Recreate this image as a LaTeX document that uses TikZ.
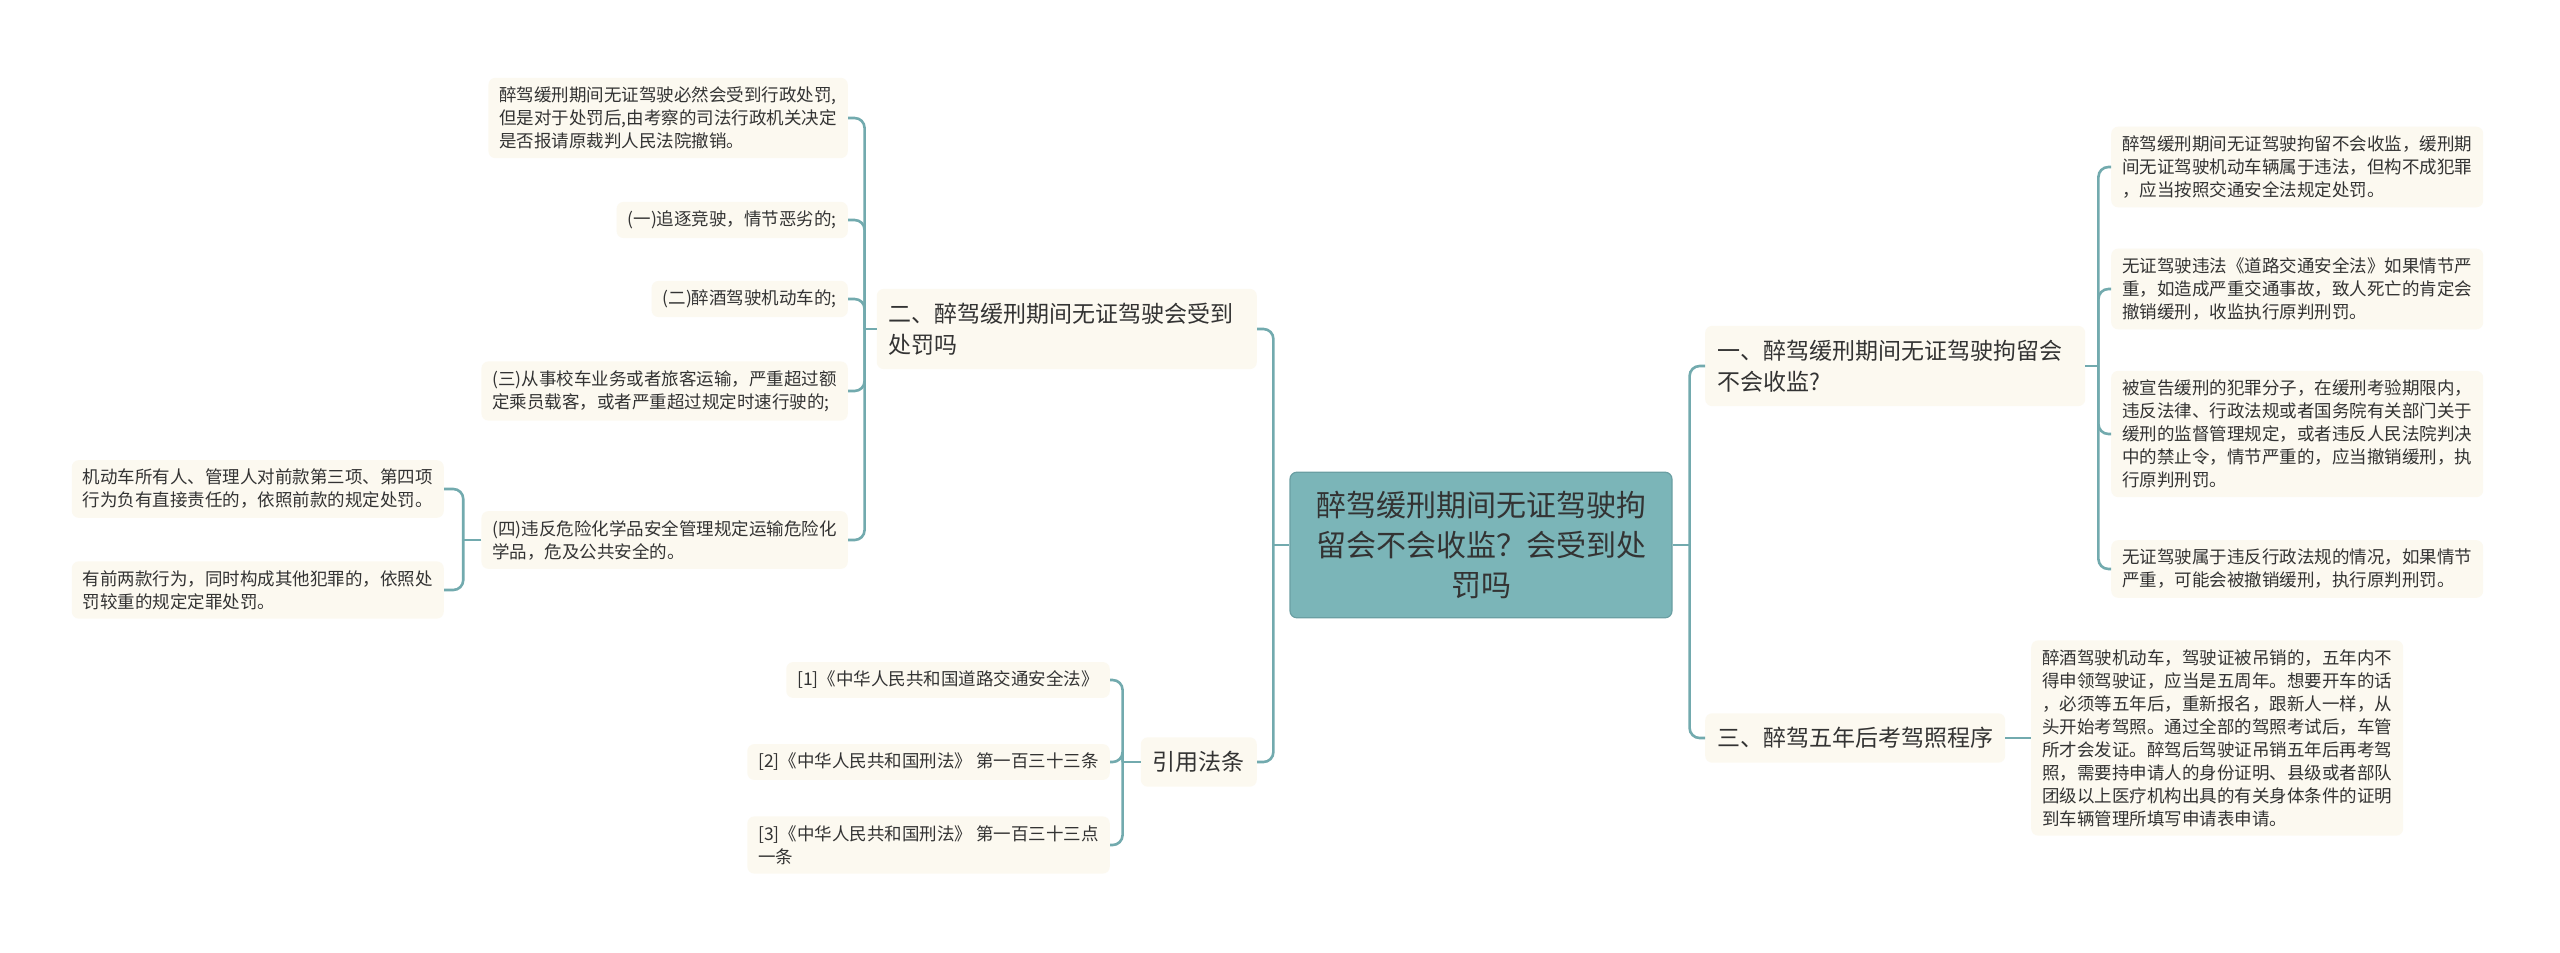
\documentclass[tikz,border=0pt]{standalone}
\usepackage{fontspec}
\setmainfont{Noto Sans CJK SC}
\usetikzlibrary{positioning}
\definecolor{linkteal}{HTML}{72AAAE}
\definecolor{rootfill}{HTML}{7BB5B8}
\definecolor{rootedge}{HTML}{6A9FA3}
\definecolor{leaffill}{HTML}{FCF9F0}
\definecolor{inkgray}{HTML}{333333}

\begin{document}
\begin{tikzpicture}[x=1pt,y=-1pt,
  link/.style={draw=linkteal,line width=2.6pt,rounded corners=10pt},
  rootbox/.style={fill=rootfill,draw=rootedge,line width=1.2pt,rounded corners=7pt,align=center,inner xsep=26pt,inner ysep=19pt,font=\fontsize{30}{40}\selectfont,text=inkgray},
  midbox/.style={fill=leaffill,rounded corners=7pt,align=left,inner xsep=12pt,inner ysep=14pt,font=\fontsize{23}{31}\selectfont,text=inkgray},
  leafbox/.style={fill=leaffill,rounded corners=7pt,align=left,inner xsep=11pt,inner ysep=9pt,font=\fontsize{17.5}{23}\selectfont,text=inkgray}]
\useasboundingbox[fill=white] (0,0) rectangle (2560,953);

%root
\node[rootbox] (root) at (1481,545) {醉驾缓刑期间无证驾驶拘\\留会不会收监？会受到处\\罚吗};

%branch one
\node[midbox,anchor=west,text width=356pt] (b1) at (1705,366) {一、醉驾缓刑期间无证驾驶拘留会\\不会收监?};
\node[leafbox,anchor=west] (r1) at (2111,167) {醉驾缓刑期间无证驾驶拘留不会收监，缓刑期\\间无证驾驶机动车辆属于违法，但构不成犯罪\\，应当按照交通安全法规定处罚。};
\node[leafbox,anchor=west] (r2) at (2111,289) {无证驾驶违法《道路交通安全法》如果情节严\\重，如造成严重交通事故，致人死亡的肯定会\\撤销缓刑，收监执行原判刑罚。};
\node[leafbox,anchor=west] (r3) at (2111,434) {被宣告缓刑的犯罪分子，在缓刑考验期限内，\\违反法律、行政法规或者国务院有关部门关于\\缓刑的监督管理规定，或者违反人民法院判决\\中的禁止令，情节严重的，应当撤销缓刑，执\\行原判刑罚。};
\node[leafbox,anchor=west] (r4) at (2111,569) {无证驾驶属于违反行政法规的情况，如果情节\\严重，可能会被撤销缓刑，执行原判刑罚。};

%branch three
\node[midbox,anchor=west] (b3) at (1705,738) {三、醉驾五年后考驾照程序};
\node[leafbox,anchor=west] (t1) at (2031,738) {醉酒驾驶机动车，驾驶证被吊销的，五年内不\\得申领驾驶证，应当是五周年。想要开车的话\\，必须等五年后，重新报名，跟新人一样，从\\头开始考驾照。通过全部的驾照考试后，车管\\所才会发证。醉驾后驾驶证吊销五年后再考驾\\照，需要持申请人的身份证明、县级或者部队\\团级以上医疗机构出具的有关身体条件的证明\\到车辆管理所填写申请表申请。};

%branch two
\node[midbox,anchor=east,text width=356pt] (b2) at (1257,329) {二、醉驾缓刑期间无证驾驶会受到\\处罚吗};
\node[leafbox,anchor=east] (c1) at (848,118) {醉驾缓刑期间无证驾驶必然会受到行政处罚,\\但是对于处罚后,由考察的司法行政机关决定\\是否报请原裁判人民法院撤销。};
\node[leafbox,anchor=east] (c2) at (848,220) {(一)追逐竞驶，情节恶劣的;};
\node[leafbox,anchor=east] (c3) at (848,299) {(二)醉酒驾驶机动车的;};
\node[leafbox,anchor=east] (c4) at (848,391) {(三)从事校车业务或者旅客运输，严重超过额\\定乘员载客，或者严重超过规定时速行驶的;};
\node[leafbox,anchor=east] (c5) at (848,540) {(四)违反危险化学品安全管理规定运输危险化\\学品，危及公共安全的。};
\node[leafbox,anchor=east] (g1) at (444,489) {机动车所有人、管理人对前款第三项、第四项\\行为负有直接责任的，依照前款的规定处罚。};
\node[leafbox,anchor=east] (g2) at (444,590) {有前两款行为，同时构成其他犯罪的，依照处\\罚较重的规定定罪处罚。};

%laws
\node[midbox,anchor=east] (b4) at (1257,762) {引用法条};
\node[leafbox,anchor=east] (l1) at (1110,680) {[1]《中华人民共和国道路交通安全法》};
\node[leafbox,anchor=east] (l2) at (1110,762) {[2]《中华人民共和国刑法》 第一百三十三条};
\node[leafbox,anchor=east] (l3) at (1110,845) {[3]《中华人民共和国刑法》 第一百三十三点\\一条};

%links right
\coordinate (jr) at ([xshift=17pt]root.east);
\draw[link] (root.east) -- (jr);
\draw[link] (jr) |- (b1.west);
\draw[link] (jr) |- (b3.west);
\coordinate (j1) at ([xshift=13pt]b1.east);
\draw[link] (b1.east) -- (j1);
\foreach \n in {r1,r2,r3,r4}
  \draw[link] (j1) |- (\n.west);
\draw[link] (b3.east) -- (t1.west);

%links left
\coordinate (jl) at ([xshift=-16pt]root.west);
\draw[link] (root.west) -- (jl);
\draw[link] (jl) |- (b2.east);
\draw[link] (jl) |- (b4.east);
\coordinate (j2) at ([xshift=-12pt]b2.west);
\draw[link] (b2.west) -- (j2);
\foreach \n in {c1,c2,c3,c4,c5}
  \draw[link] (j2) |- (\n.east);
\coordinate (j5) at ([xshift=-18pt]c5.west);
\draw[link] (c5.west) -- (j5);
\foreach \n in {g1,g2}
  \draw[link] (j5) |- (\n.east);
\coordinate (j4) at ([xshift=-18pt]b4.west);
\draw[link] (b4.west) -- (j4);
\foreach \n in {l1,l2,l3}
  \draw[link] (j4) |- (\n.east);
\end{tikzpicture}
\end{document}
